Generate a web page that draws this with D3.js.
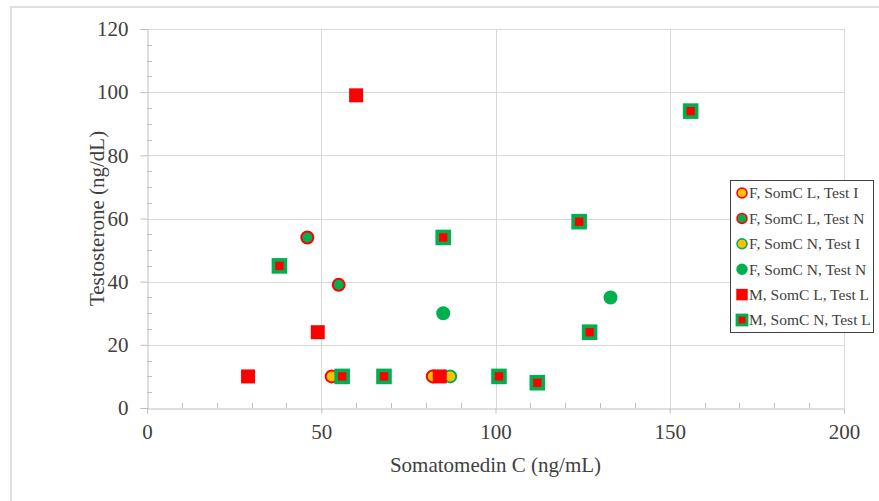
<!DOCTYPE html>
<html>
<head>
<meta charset="utf-8">
<script src="https://cdn.jsdelivr.net/npm/d3@7"></script>
<style>
  body { margin: 0; background: #fff; }
  svg { font-family: "Liberation Serif", "Times New Roman", serif; }
</style>
</head>
<body>
<svg id="chart" width="879" height="501"></svg>
<script>
// series names, legend order
var seriesNames = [
  "F, SomC L, Test I",
  "F, SomC L, Test N",
  "F, SomC N, Test I",
  "F, SomC N, Test N",
  "M, SomC L, Test L",
  "M, SomC N, Test L"
];

// [somatomedin C, testosterone]
var fLowI = [[53, 10], [82, 10]];
var fLowN = [[46, 54], [55, 39]];
var fNormI = [[87, 10]];
var fNormN = [[85, 30], [133, 35]];
var mLowL = [[29, 10], [49, 24], [60, 99], [84, 10]];
var mNormL = [[38, 45], [56, 10], [68, 10], [85, 54], [101, 10], [112, 8], [124, 59], [127, 24], [156, 94]];

var xTicks = [0, 50, 100, 150, 200];
var yTicks = [0, 20, 40, 60, 80, 100, 120];

var RED = "#ff0000", GREEN = "#00b050", GOLD = "#ffc000";

var styles = [
  {shape: "circle", fill: GOLD, stroke: RED},
  {shape: "circle", fill: GREEN, stroke: RED},
  {shape: "circle", fill: GOLD, stroke: GREEN},
  {shape: "circle", fill: GREEN, stroke: GREEN},
  {shape: "square", fill: RED, stroke: RED},
  {shape: "square", fill: RED, stroke: GREEN}
];
var allSeries = [fLowI, fLowN, fNormI, fNormN, mLowL, mNormL];

var svg = d3.select("#chart");

// outer chart frame (bottom edge falls outside the picture)
svg.append("rect")
  .attr("x", 11).attr("y", 7)
  .attr("width", 880).attr("height", 510)
  .attr("fill", "none").attr("stroke", "#d9d9d9").attr("stroke-width", 1.6);

var plotLeft = 147, plotTop = 29, plotRight = 844, plotBottom = 408;

var x = d3.scaleLinear().domain([0, 200]).range([plotLeft, plotRight]);
var y = d3.scaleLinear().domain([0, 120]).range([plotBottom, plotTop]);

// gridlines
svg.append("g").selectAll("line")
  .data(xTicks.slice(1))
  .enter().append("line")
    .attr("x1", function (d) { return Math.round(x(d)) + 0.5; })
    .attr("x2", function (d) { return Math.round(x(d)) + 0.5; })
    .attr("y1", plotTop).attr("y2", plotBottom)
    .attr("stroke", "#d9d9d9");

svg.append("g").selectAll("line")
  .data(yTicks.slice(1))
  .enter().append("line")
    .attr("y1", function (d) { return Math.round(y(d)) + 0.5; })
    .attr("y2", function (d) { return Math.round(y(d)) + 0.5; })
    .attr("x1", plotLeft).attr("x2", plotRight)
    .attr("stroke", "#d9d9d9");

// minor ticks (inside)
svg.append("g").selectAll("line")
  .data(d3.range(10, 201, 10).filter(function (d) { return d % 50 !== 0; }))
  .enter().append("line")
    .attr("x1", function (d) { return Math.round(x(d)) + 0.5; })
    .attr("x2", function (d) { return Math.round(x(d)) + 0.5; })
    .attr("y1", plotBottom).attr("y2", plotBottom - 5)
    .attr("stroke", "#bfbfbf");

svg.append("g").selectAll("line")
  .data(d3.range(5, 121, 5).filter(function (d) { return d % 20 !== 0; }))
  .enter().append("line")
    .attr("y1", function (d) { return Math.round(y(d)) + 0.5; })
    .attr("y2", function (d) { return Math.round(y(d)) + 0.5; })
    .attr("x1", plotLeft).attr("x2", plotLeft + 5)
    .attr("stroke", "#bfbfbf");

// axes
var xAxis = svg.append("g")
  .attr("transform", "translate(0," + (plotBottom + 0.5) + ")")
  .call(d3.axisBottom(x).tickValues(xTicks).tickSize(5).tickPadding(11).tickFormat(d3.format("d")));
var yAxis = svg.append("g")
  .attr("transform", "translate(" + (plotLeft + 0.5) + ",0)")
  .call(d3.axisLeft(y).tickValues(yTicks).tickSize(7).tickPadding(12).tickFormat(d3.format("d")));

[xAxis, yAxis].forEach(function (a) {
  a.select(".domain").attr("stroke", "#bfbfbf");
  a.selectAll(".tick line").attr("stroke", "#bfbfbf");
  a.selectAll("text")
    .attr("fill", "#404040")
    .style("font-size", "21px")
    .style("font-family", "'Liberation Serif', serif");
});

// axis titles
svg.append("text")
  .attr("x", (plotLeft + plotRight) / 2).attr("y", 472)
  .attr("text-anchor", "middle")
  .attr("fill", "#404040")
  .style("font-size", "21px")
  .text("Somatomedin C (ng/mL)");

svg.append("text")
  .attr("transform", "translate(104," + ((plotTop + plotBottom) / 2) + ") rotate(-90)")
  .attr("text-anchor", "middle")
  .attr("fill", "#404040")
  .style("font-size", "21px")
  .text("Testosterone (ng/dL)");

var drawMarker = function (g, st, k) {
  if (st.shape === "circle") {
    g.append("circle").attr("r", 6 * k)
      .attr("fill", st.fill).attr("stroke", st.stroke).attr("stroke-width", 2 * k);
  } else if (st.fill === st.stroke) {
    g.append("rect").attr("x", -7 * k).attr("y", -7 * k).attr("width", 14 * k).attr("height", 14 * k)
      .attr("fill", st.fill);
  } else {
    g.append("rect").attr("x", -6 * k).attr("y", -6 * k).attr("width", 12 * k).attr("height", 12 * k)
      .attr("fill", st.fill).attr("stroke", st.stroke).attr("stroke-width", 3.6 * k);
  }
};

// points
allSeries.forEach(function (data, i) {
  svg.append("g").selectAll("g")
    .data(data)
    .enter().append("g")
      .attr("transform", function (d) { return "translate(" + x(d[0]) + "," + y(d[1]) + ")"; })
      .each(function () { drawMarker(d3.select(this), styles[i], 1); });
});

// legend
var gLegend = svg.append("g");
gLegend.append("rect")
  .attr("x", 730.5).attr("y", 180.5)
  .attr("width", 143).attr("height", 152)
  .attr("fill", "#fff").attr("stroke", "#404040");

seriesNames.forEach(function (name, i) {
  var row = gLegend.append("g")
    .attr("transform", "translate(742," + (193 + i * 25.4) + ")");
  drawMarker(row.append("g"), styles[i], 0.82);
  row.append("text")
    .attr("x", 7).attr("dy", "0.35em")
    .attr("fill", "#404040")
    .style("font-size", "15.5px")
    .text(name);
});
</script>
</body>
</html>
